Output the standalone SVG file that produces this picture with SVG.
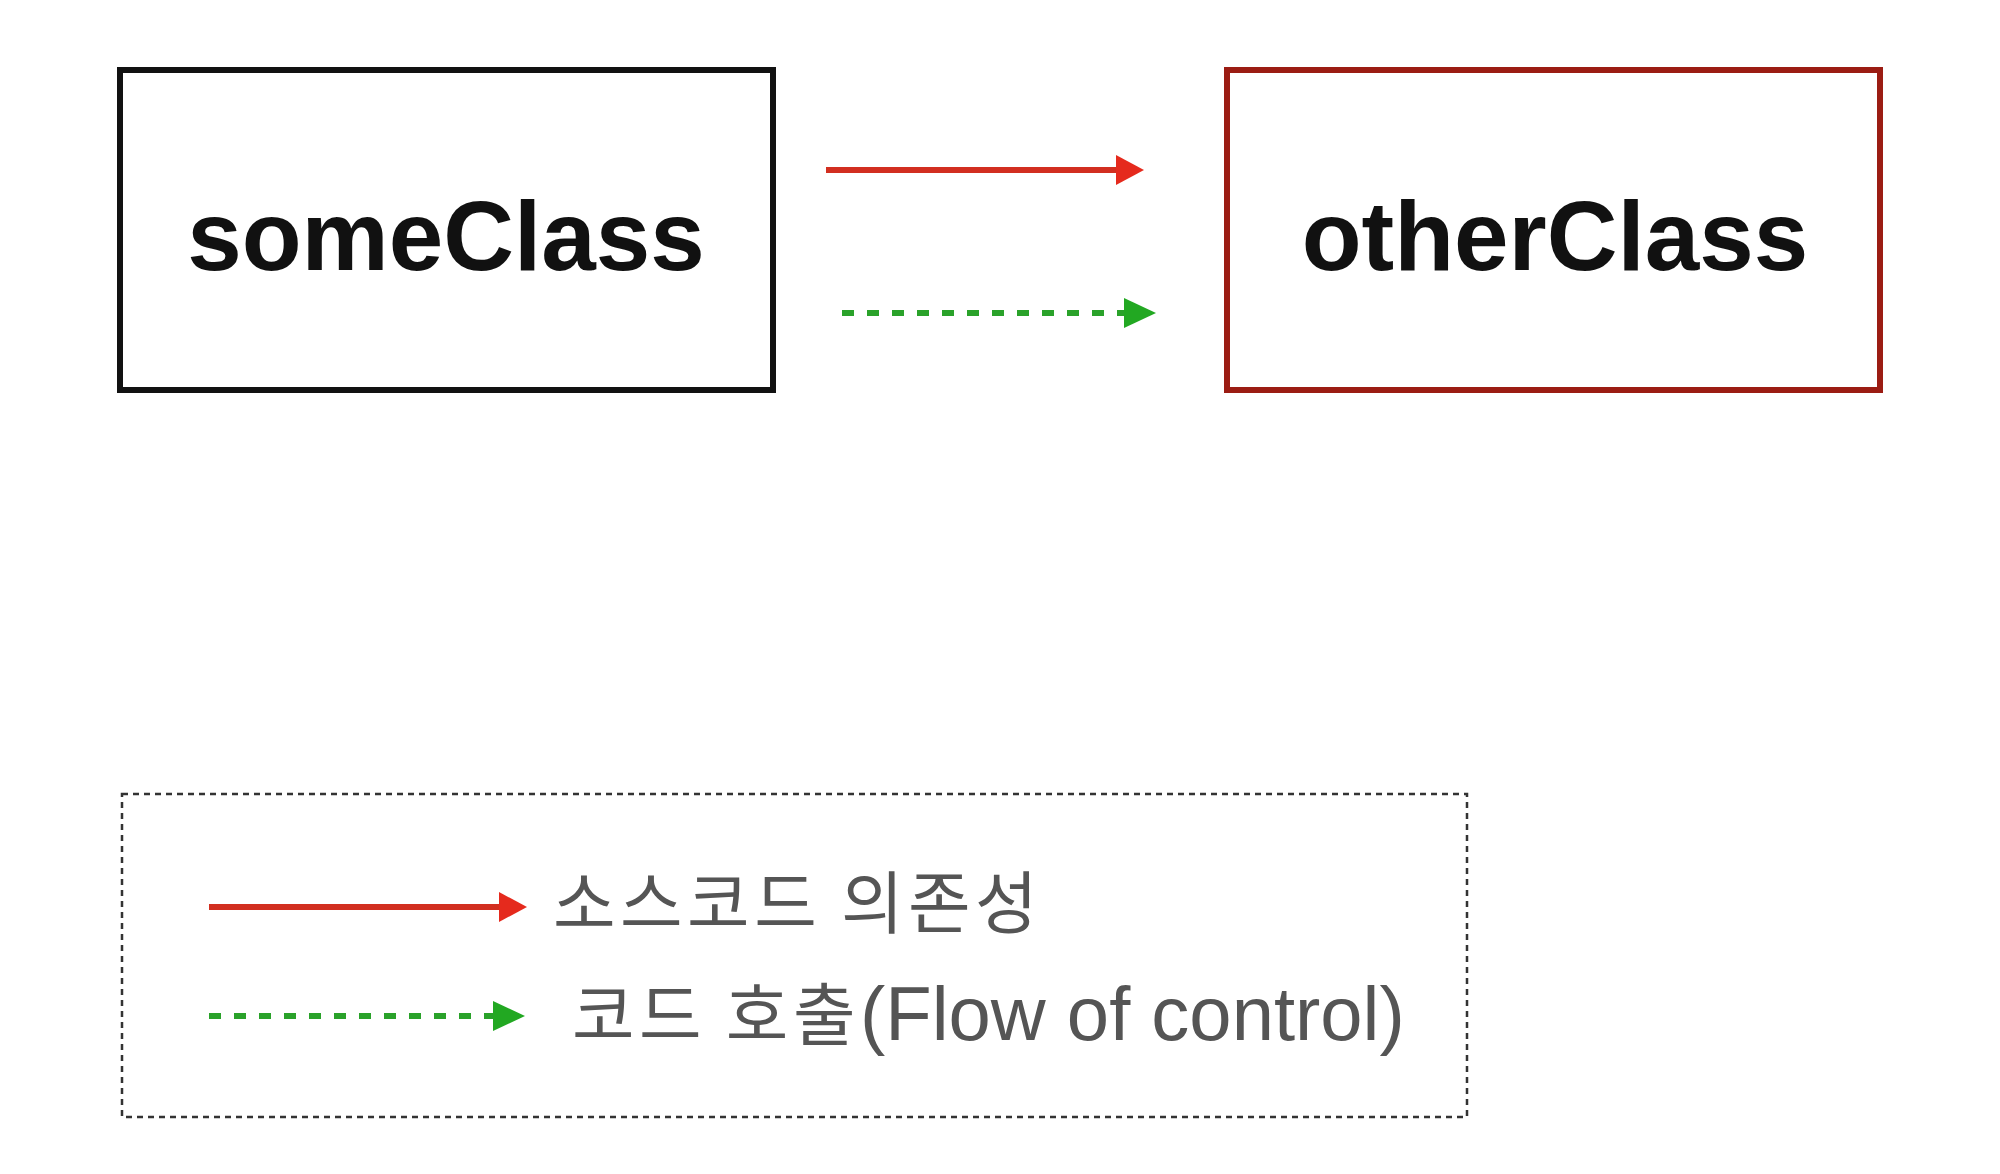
<svg xmlns="http://www.w3.org/2000/svg" width="2000" height="1174" viewBox="0 0 2000 1174">
  <style>
    .box { fill: #ffffff; stroke-width: 6; }
    .title { font-family: "Liberation Sans", Arial, Helvetica, sans-serif; font-weight: bold; font-size: 98px; fill: #111111; text-anchor: middle; }
    .dep { stroke: #d22f20; stroke-width: 6; fill: none; }
    .flow { stroke: #2aa22a; stroke-width: 6; fill: none; stroke-dasharray: 12 13; }
    .legend-text { font-family: "Noto Sans CJK KR", "Liberation Sans", sans-serif; font-size: 68px; fill: #555555; letter-spacing: 4.5px; }
    .latin { font-family: "Liberation Sans", Arial, sans-serif; font-size: 76px; letter-spacing: 0px; }
  </style>
  <defs>
    <marker id="headRed" markerUnits="userSpaceOnUse" markerWidth="30" markerHeight="32" refX="1" refY="15" orient="auto">
      <path d="M0,0 L28,15 L0,30 Z" fill="#e52a1d"/>
    </marker>
    <marker id="headGreen" markerUnits="userSpaceOnUse" markerWidth="34" markerHeight="32" refX="1" refY="15" orient="auto">
      <path d="M0,0 L32,15 L0,30 Z" fill="#22a822"/>
    </marker>
  </defs>
  <rect width="2000" height="1174" fill="#ffffff"/>

  <g id="someClass">
    <rect class="box" x="120" y="70" width="653" height="320" stroke="#111111"/>
    <text class="title" x="446" y="270">someClass</text>
  </g>

  <g id="otherClass">
    <rect class="box" x="1227" y="70" width="653" height="320" stroke="#9b1c13"/>
    <text class="title" x="1555" y="270">otherClass</text>
  </g>

  <g id="connectors">
    <line class="dep" x1="826" y1="170" x2="1117" y2="170" marker-end="url(#headRed)"/>
    <line class="flow" x1="842" y1="313" x2="1125" y2="313" marker-end="url(#headGreen)"/>
  </g>

  <g id="legend">
    <rect x="122" y="794" width="1345" height="323" fill="none" stroke="#333333" stroke-width="2.5" stroke-dasharray="6 5"/>
    <line class="dep" x1="209" y1="907" x2="500" y2="907" marker-end="url(#headRed)"/>
    <line class="flow" x1="209" y1="1016" x2="494" y2="1016" marker-end="url(#headGreen)"/>
    <text class="legend-text" x="553" y="928">소스코드 의존성</text>
    <text class="legend-text" x="572" y="1040">코드 호출<tspan class="latin">(Flow of control)</tspan></text>
  </g>
</svg>
